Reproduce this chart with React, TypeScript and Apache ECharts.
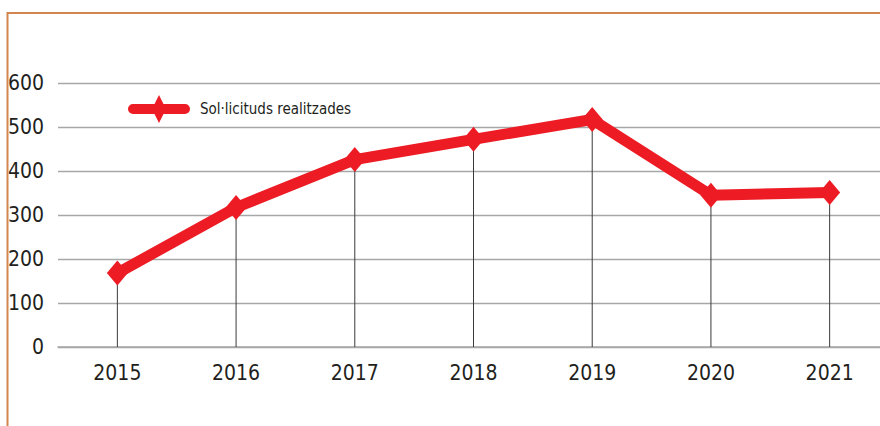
import React, { useEffect, useRef } from "react";
import * as echarts from "echarts";

const categories = ["2015", "2016", "2017", "2018", "2019", "2020", "2021"];
const values = [168, 317, 426, 472, 517, 345, 351];
const seriesName = "Sol·licituds realitzades";
const yTicks = { min: 0, max: 600, interval: 100 };

const FONT = "'DejaVu Sans Condensed', 'Liberation Sans Narrow', sans-serif";
const LEGEND_ICON =
  "path://M5,9 L57,9 A5,5 0 0 1 57,19 L5,19 A5,5 0 0 1 5,9 Z M31,0 L38,14 L31,28 L24,14 Z";

export default function App() {
  const ref = useRef<HTMLDivElement>(null);
  useEffect(() => {
    if (!ref.current) return;
    const chart = echarts.init(ref.current, null, { renderer: "svg" });
    chart.setOption({
      animation: false,
      backgroundColor: "#ffffff",
      grid: {
        left: 58,
        width: 831,
        top: 83,
        bottom: 79,
        containLabel: false,
        outerBoundsMode: "none",
      },
      legend: {
        data: [seriesName],
        left: 123,
        top: 90,
        icon: LEGEND_ICON,
        itemWidth: 62,
        itemHeight: 28,
        itemGap: 10,
        itemStyle: { color: "#ed1c24", borderWidth: 0 },
        textStyle: { fontFamily: FONT, fontSize: 15, color: "#231f20", padding: [0, 0, 0, 5] },
      },
      xAxis: {
        type: "category",
        data: categories,
        boundaryGap: true,
        axisLine: { show: true, lineStyle: { color: "#a7a7a7", width: 1.5 } },
        axisTick: { show: false },
        axisLabel: { fontFamily: FONT, fontSize: 21, color: "#231f20", margin: 15 },
      },
      yAxis: {
        type: "value",
        min: yTicks.min,
        max: yTicks.max,
        interval: yTicks.interval,
        axisLine: { show: false },
        axisTick: { show: false },
        splitLine: { lineStyle: { color: "#a7a7a7", width: 1.3 } },
        axisLabel: { fontFamily: FONT, fontSize: 21, color: "#231f20", margin: 14 },
      },
      series: [
        {
          type: "bar",
          data: values,
          barWidth: 1,
          itemStyle: { color: "#3a3a3a" },
          silent: true,
          z: 1,
          legendHoverLink: false,
        },
        {
          name: seriesName,
          type: "line",
          data: values,
          z: 3,
          symbol: "diamond",
          symbolSize: [21, 25],
          lineStyle: { color: "#ed1c24", width: 11, cap: "round", join: "round" },
          itemStyle: { color: "#ed1c24" },
        },
      ],
      graphic: [
        {
          type: "line",
          shape: { x1: 7.5, y1: 13, x2: 880, y2: 13 },
          style: { stroke: "#d2854d", lineWidth: 2 },
          z: 10,
        },
        {
          type: "line",
          shape: { x1: 7.5, y1: 12, x2: 7.5, y2: 426 },
          style: { stroke: "#d2854d", lineWidth: 2 },
          z: 10,
        },
      ],
    });
    return () => chart.dispose();
  }, []);
  return (
    <div
      ref={ref}
      style={{ position: "fixed", left: 0, top: 0, width: 880, height: 426 }}
    />
  );
}
